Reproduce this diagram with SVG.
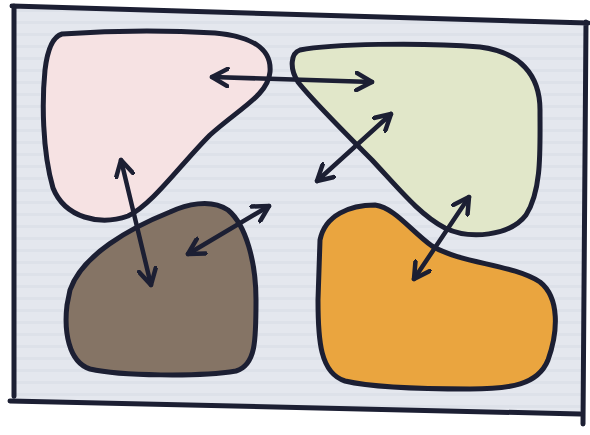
<svg xmlns="http://www.w3.org/2000/svg" width="590" height="435" viewBox="0 0 590 435">
<defs>
<style>
.ol{stroke:#1c1f33;stroke-width:5;stroke-linejoin:round;stroke-linecap:round}
.ar{fill:none;stroke:#1c1f33;stroke-width:4.5;stroke-linecap:round;marker-start:url(#h);marker-end:url(#h)}
</style>
<marker id="h" viewBox="0 0 12 12" refX="10" refY="6" markerWidth="4.6" markerHeight="4.6" orient="auto-start-reverse" markerUnits="strokeWidth">
<path d="M1,1 L10,6 L1,11" fill="none" stroke="#1c1f33" stroke-width="2.6" stroke-linecap="round" stroke-linejoin="round"/>
</marker>
<pattern id="stripes" width="590" height="12" patternUnits="userSpaceOnUse">
<rect width="590" height="12" fill="#e4e7ee"/>
<rect y="9" width="590" height="3" fill="#dde1e9"/>
</pattern>
</defs>
<rect width="590" height="435" fill="#ffffff"/>
<g id="frame">
<path d="M14,6 L586,23 L583,414 L12,401 Z" fill="url(#stripes)"/>
<path class="ol" d="M12,6 L588,23 M586,22 L583,424 M10,401 L580,414 M14,6 L14,396" fill="none" stroke-width="5.5"/>
</g>
<g id="node-pink">
<path class="ol" fill="#f6e2e3" d="M62,34 C120,30 180,31 215,33 C250,36 272,48 270,72 C268,95 240,108 210,135 C180,165 152,205 128,216 C100,226 65,218 53,188 C42,150 42,100 45,70 C48,45 55,36 62,34 Z"/>
</g>
<g id="node-green">
<path class="ol" fill="#e1e7c9" d="M300,50 C330,44 420,42 480,47 C520,52 540,75 540,110 C540,150 542,190 526,215 C510,236 470,240 445,228 C420,215 400,190 372,160 C342,130 312,100 298,82 C289,68 291,53 300,50 Z"/>
</g>
<g id="node-brown">
<path class="ol" fill="#857465" d="M70,290 C82,255 130,228 170,212 C185,205 210,198 228,210 C246,225 256,262 256,300 C256,340 256,365 236,371 C200,377 120,376 90,369 C68,362 64,330 67,305 Z"/>
</g>
<g id="node-orange">
<path class="ol" fill="#eaa53f" d="M320,240 C325,215 350,205 375,205 C395,208 410,230 432,246 C462,264 512,264 540,282 C560,298 558,332 548,360 C538,385 510,389 470,389 C420,389 370,387 345,381 C320,373 318,340 318,300 Z"/>
</g>
<g id="connectors">
<line class="ar" x1="212" y1="77" x2="372" y2="82"/>
<line class="ar" x1="317" y1="181" x2="391" y2="114"/>
<line class="ar" x1="121" y1="160" x2="151" y2="285"/>
<line class="ar" x1="188" y1="254" x2="269" y2="206"/>
<line class="ar" x1="469" y1="197" x2="414" y2="279"/>
</g>
</svg>
